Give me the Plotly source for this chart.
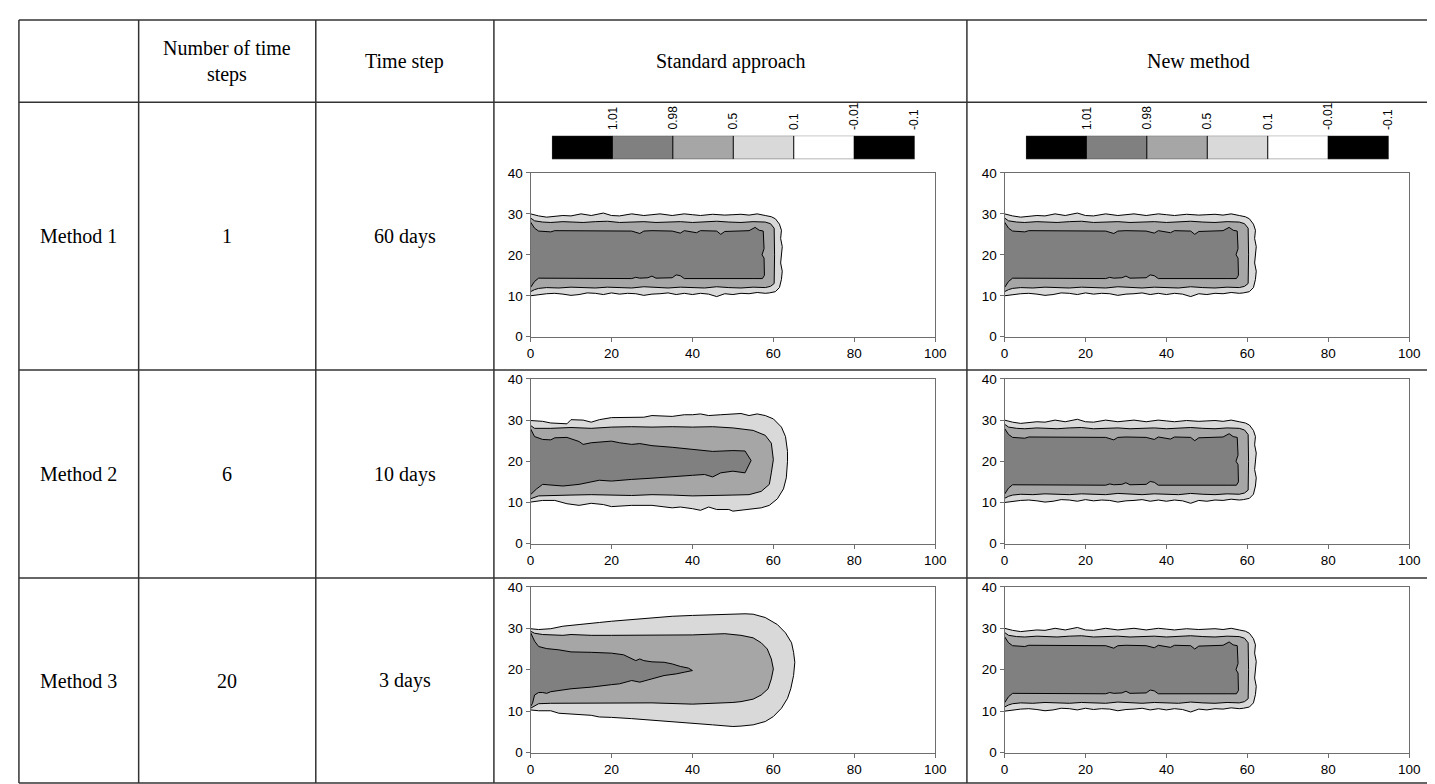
import plotly.graph_objects as go

W, H = 1435, 784

# ---------------- table text ----------------
HEADERS = ["", "Number of time<br>steps", "Time step", "Standard approach", "New method"]
ROW_LABELS = ["Method 1", "Method 2", "Method 3"]
N_STEPS = ["1", "6", "20"]
TIME_STEPS = ["60 days", "10 days", "3 days"]

# ---------------- colour legend ----------------
LEGEND_LABELS = ["1.01", "0.98", "0.5", "0.1", "-0.01", "-0.1"]
LEGEND_COLORS = ["#000000", "#808080", "#a6a6a6", "#d9d9d9", "#ffffff", "#000000"]
LEVEL_COLORS = {"outer": "#d9d9d9", "middle": "#a6a6a6", "inner": "#808080"}

# ---------------- contour boundaries ----------------
# Base plume (Method 1 standard and all "New method" panels)
BASE_OUTER_X = [0, 2, 4, 6, 8, 10, 12.5, 15, 18, 20, 22, 25, 28, 30, 32, 35, 38, 40, 42, 45, 48, 50, 52, 54, 56, 58, 59.5,
                60.5, 61.5, 62, 61.8, 62.2, 62, 61.8, 62.2, 62, 61.5, 60.5,
                59, 58, 56, 54, 52, 50, 48, 46, 44, 42, 40, 38, 36, 34, 32, 30, 28, 26, 24, 22, 20, 18, 16, 14, 12, 10, 8, 6, 4, 2, 0]
BASE_OUTER_Y = [30.0, 29.5, 29.2, 29.4, 29.6, 29.5, 30.0, 29.6, 30.2, 29.6, 29.5, 30.0, 29.6, 29.8, 30.0, 29.6, 30.0, 29.8, 29.6, 29.9, 29.7, 29.8, 29.9, 29.7, 30.0, 29.6, 29.3,
                28.8, 27.5, 26, 24, 22, 20, 18, 16, 14, 12, 11,
                10.7, 10.6, 10.8, 10.5, 10.6, 10.3, 10.5, 9.8, 10.4, 10.6, 10.3, 10.6, 10.3, 10.7, 10.5, 10.4, 10.1, 10.5, 10.6, 10.4, 10.7, 10.3, 10.6, 10.7, 10.3, 10.1, 10.4, 10.6, 10.5, 10.2, 10.0]
BASE_MID_X = [0, 1, 3, 5, 8, 10, 13, 16, 19, 22, 25, 28, 31, 34, 37, 40, 43, 46, 49, 52, 55, 58, 59.3, 60.2, 60.3, 60.3, 60.2, 59.3,
              58, 55, 52, 49, 46, 43, 40, 37, 34, 31, 28, 25, 22, 19, 16, 13, 10, 7, 4, 2, 1, 0]
BASE_MID_Y = [29.0, 28.3, 28.0, 27.9, 28.1, 28.0, 27.9, 28.1, 28.2, 27.9, 28.0, 28.1, 27.9, 28.0, 28.1, 27.9, 28.0, 28.2, 28.0, 27.9, 28.1, 28.0, 27.6, 26.5, 20, 14, 13, 12.3,
              12.0, 12.1, 11.9, 12.0, 12.2, 11.9, 12.0, 12.1, 11.9, 12.0, 12.2, 11.9, 12.0, 12.1, 11.9, 12.0, 12.1, 11.9, 12.0, 11.8, 11.5, 11.0]
BASE_IN_X = [0, 1, 2, 5, 6, 10, 15, 20, 25, 27, 28, 30, 35, 37, 38, 41, 42, 46, 47, 48, 50, 54, 55.5, 56.5, 57.5, 57.7, 57.2, 57.7, 57.8, 57.5,
             57.3, 55, 50, 45, 40, 38, 37, 36, 35, 31, 30, 29, 27, 26, 25, 20, 15, 10, 5, 2, 1, 0]
BASE_IN_Y = [28.0, 26.5, 25.8, 25.6, 25.9, 25.9, 25.9, 25.9, 25.8, 25.2, 25.8, 25.9, 25.8, 25.3, 25.9, 25.4, 25.9, 25.8, 25.0, 25.7, 25.8, 25.9, 26.7, 26.0, 25.8, 21.5, 20.0, 19.2, 15.0, 14.4,
             14.2, 14.2, 14.2, 14.2, 14.3, 14.2, 14.9, 15.1, 14.4, 14.3, 14.8, 14.4, 14.3, 14.5, 14.2, 14.2, 14.3, 14.2, 14.3, 14.3, 13.5, 12.0]

# Method 2, standard approach
M2_OUTER_X = [0, 3, 5, 9, 10, 13, 15, 17, 20, 25, 28, 30, 35, 38, 40, 42, 44, 47, 52, 54, 56, 58, 60, 62, 63, 63.5, 63.5, 63.2, 62.5, 61,
              59, 57, 55, 52, 50, 49, 46, 44, 42, 40, 37, 35, 32, 30, 25, 20, 18, 15, 12, 9, 6, 3, 0]
M2_OUTER_Y = [29.9, 29.7, 29.3, 29.1, 30.1, 30.0, 29.5, 30.1, 30.6, 30.6, 30.7, 31.1, 30.9, 31.3, 31.3, 31.5, 31.1, 31.3, 31.6, 31.1, 31.5, 31.1, 30.3, 28.3, 26.0, 22.4, 20.0, 16.0, 13.3, 10.9,
              9.3, 8.7, 8.5, 8.1, 7.9, 8.3, 8.3, 8.9, 8.1, 8.5, 8.9, 8.7, 9.0, 9.3, 9.3, 9.0, 9.5, 9.8, 9.3, 9.7, 10.5, 10.5, 10.1]
M2_MID_X = [0, 1, 5, 10, 15, 20, 25, 30, 35, 40, 45, 50, 55, 58, 59.5, 60, 59.5, 59, 57, 54, 50, 45, 40, 35, 30, 25, 20, 15, 10, 5, 2, 0]
M2_MID_Y = [28.7, 28.0, 28.0, 28.2, 28.0, 28.3, 28.4, 28.3, 28.4, 28.3, 28.4, 28.1, 27.5, 26.3, 24.4, 20.4, 17.2, 14.4, 12.7, 11.9, 11.8, 11.7, 11.6, 11.8, 11.9, 11.7, 11.8, 11.9, 11.8, 11.7, 11.6, 10.9]
M2_IN_X = [0, 1, 3, 5, 6, 9, 12, 13, 15, 18, 20, 22, 25, 27, 30, 35, 40, 45, 50, 53, 54.5, 53, 50, 47, 45, 43, 40, 35, 30, 25, 20, 17, 15, 12, 8, 5, 3, 1.5, 0]
M2_IN_Y = [27.9, 26.0, 25.3, 25.2, 25.7, 25.8, 24.8, 24.1, 24.5, 24.8, 24.9, 24.5, 24.1, 24.3, 23.8, 23.4, 22.9, 22.4, 22.6, 22.5, 20.2, 17.2, 17.6, 17.2, 16.2, 16.8, 16.6, 16.2, 15.9, 15.6, 15.2, 15.4, 15.0, 14.4, 14.0, 14.2, 14.4, 13.3, 11.9]

# Method 3, standard approach
M3_OUTER_X = [0, 2, 5, 8, 12, 15, 17, 20, 25, 30, 35, 40, 45, 50, 53, 55, 58, 61, 63, 64.5, 65, 65.3, 65, 64.3, 63.5, 62, 60, 58, 55, 52,
              50, 45, 40, 35, 30, 25, 20, 17, 15, 10, 7, 5, 2, 0]
M3_OUTER_Y = [29.9, 29.7, 29.9, 30.5, 30.9, 31.1, 31.4, 31.7, 32.1, 32.5, 32.9, 33.1, 33.3, 33.4, 33.5, 33.4, 32.6, 30.9, 28.9, 26.5, 24.2, 21.8, 18.6, 15.4, 13.1, 10.7, 8.7, 7.5, 6.7, 6.4,
              6.3, 6.7, 7.1, 7.5, 7.8, 8.2, 8.5, 8.6, 9.0, 9.3, 9.5, 10.1, 10.1, 10.3]
M3_MID_X = [0, 1, 3, 8, 10, 15, 20, 30, 40, 48, 52, 55, 57, 58.5, 59.5, 60, 59.5, 58.7, 57, 55, 52, 50, 45, 40, 30, 20, 10, 5, 2, 1, 0]
M3_MID_Y = [29.3, 28.8, 28.5, 28.3, 28.5, 28.3, 28.3, 28.3, 28.4, 28.7, 28.3, 27.7, 26.5, 25.0, 22.6, 20.2, 17.8, 15.4, 13.9, 12.9, 12.3, 12.1, 11.9, 11.7, 12.0, 12.0, 11.9, 11.9, 11.8, 11.3, 10.7]
M3_IN_X = [0, 1, 2, 4, 7, 10, 15, 18, 20, 23, 25, 26, 27, 28, 30, 33, 35, 37, 39, 40, 38, 36, 33, 30, 27, 25, 22, 20, 15, 10, 7, 5, 4, 3, 2, 1, 0.5, 0]
M3_IN_Y = [29.0, 26.9, 25.6, 25.1, 24.8, 24.3, 24.2, 24.0, 24.0, 23.6, 22.6, 22.2, 22.6, 22.2, 21.9, 21.8, 21.4, 20.8, 20.4, 19.8, 19.4, 19.0, 18.6, 17.8, 17.0, 17.4, 16.6, 16.4, 15.8, 15.4, 15.0, 14.7, 14.3, 14.5, 14.5, 13.9, 11.9, 11.1]

BASE = [("outer", BASE_OUTER_X, BASE_OUTER_Y), ("middle", BASE_MID_X, BASE_MID_Y), ("inner", BASE_IN_X, BASE_IN_Y)]
M2 = [("outer", M2_OUTER_X, M2_OUTER_Y), ("middle", M2_MID_X, M2_MID_Y), ("inner", M2_IN_X, M2_IN_Y)]
M3 = [("outer", M3_OUTER_X, M3_OUTER_Y), ("middle", M3_MID_X, M3_MID_Y), ("inner", M3_IN_X, M3_IN_Y)]
PANELS = [BASE, BASE, M2, BASE, M3, BASE]   # row-major: (std, new) per row

# ---------------- layout geometry (pixels) ----------------
COL_X = [7, 128, 307, 487, 965, 1433]
ROW_Y = [5, 89, 362, 574, 783]
PLOT_X = [(524, 933), (1003, 1412)]
PLOT_Y = [(161, 328), (371, 539), (583, 752)]
LEG_Y = (123, 147)
LEG_DX = (21.6, 388.2)

def px(x):
    return x / W

def py(y):
    return 1 - y / H

fig = go.Figure()
layout = dict(width=W, height=H, margin=dict(l=0, r=0, t=0, b=0),
              paper_bgcolor="white", plot_bgcolor="white", showlegend=False)

AX_COL = "#6e6e6e"
tick_font = dict(family="Liberation Sans, Arial", size=13.5, color="black")

idx = 0
for r in range(3):
    for c in range(2):
        idx += 1
        xa = "xaxis" if idx == 1 else f"xaxis{idx}"
        ya = "yaxis" if idx == 1 else f"yaxis{idx}"
        xr = "x" if idx == 1 else f"x{idx}"
        yr = "y" if idx == 1 else f"y{idx}"
        layout[xa] = dict(domain=[px(PLOT_X[c][0]), px(PLOT_X[c][1])], range=[0, 100], anchor=yr,
                          showline=True, linecolor=AX_COL, linewidth=1, mirror=True, ticks="outside",
                          ticklen=4, tickcolor=AX_COL, tickvals=[0, 20, 40, 60, 80, 100], showgrid=False,
                          zeroline=False, tickfont=tick_font, fixedrange=True)
        layout[ya] = dict(domain=[py(PLOT_Y[r][1]), py(PLOT_Y[r][0])], range=[0, 40], anchor=xr,
                          showline=True, linecolor=AX_COL, linewidth=1, mirror=True, ticks="outside",
                          ticklen=4, tickcolor=AX_COL, tickvals=[0, 10, 20, 30, 40], showgrid=False,
                          zeroline=False, tickfont=tick_font, fixedrange=True)
        panel = PANELS[r * 2 + c]
        for lvl, xs, ys in panel:
            fig.add_trace(go.Scatter(x=xs, y=ys, mode="lines", fill="toself",
                                     fillcolor=LEVEL_COLORS[lvl], line=dict(width=0),
                                     hoverinfo="skip", xaxis=xr, yaxis=yr))
        for lvl, xs, ys in panel:
            fig.add_trace(go.Scatter(x=xs, y=ys, mode="lines", line=dict(color="black", width=1),
                                     hoverinfo="skip", xaxis=xr, yaxis=yr))

# ---------------- colour legends (row 1 only) ----------------
annotations = []
shapes = []
n = len(LEGEND_COLORS)
cs = []
for i, col in enumerate(LEGEND_COLORS):
    cs.append([i / n, col])
    cs.append([(i + 1) / n, col])
for c in range(2):
    idx += 1
    xa, ya, xr, yr = f"xaxis{idx}", f"yaxis{idx}", f"x{idx}", f"y{idx}"
    x0 = PLOT_X[c][0] + LEG_DX[0]
    x1 = PLOT_X[c][0] + LEG_DX[1]
    layout[xa] = dict(domain=[px(x0), px(x1)], range=[0, n], anchor=yr, visible=False, fixedrange=True)
    layout[ya] = dict(domain=[py(LEG_Y[1]), py(LEG_Y[0])], range=[0, 1], anchor=xr, visible=False, fixedrange=True)
    fig.add_trace(go.Heatmap(z=[list(range(n))], x=[i + 0.5 for i in range(n)], y=[0.5],
                             colorscale=cs, zmin=-0.5, zmax=n - 0.5, showscale=False,
                             hoverinfo="skip", xaxis=xr, yaxis=yr))
    for i in range(1, n):
        shapes.append(dict(type="line", xref=xr, yref=yr, x0=i, x1=i, y0=0, y1=1,
                           line=dict(color="black", width=1)))
    shapes.append(dict(type="rect", xref=xr, yref=yr, x0=0, x1=n, y0=0, y1=1,
                       line=dict(color="#444444", width=0.8)))
    for i, lab in enumerate(LEGEND_LABELS):
        annotations.append(dict(x=i + 1, y=py(LEG_Y[0] - 4), xref=xr, yref="paper", text=lab,
                                textangle=-90, showarrow=False, xanchor="center", yanchor="bottom",
                                font=dict(family="Liberation Sans, Arial", size=12, color="black")))

# ---------------- table lines ----------------
LINE = dict(color="#333333", width=1.5)
for x in COL_X:
    shapes.append(dict(type="line", xref="paper", yref="paper", x0=px(x), x1=px(x),
                       y0=py(ROW_Y[0]), y1=py(ROW_Y[-1]), line=LINE))
for y in ROW_Y:
    shapes.append(dict(type="line", xref="paper", yref="paper", x0=px(COL_X[0]), x1=px(COL_X[-1]),
                       y0=py(y), y1=py(y), line=LINE))

# ---------------- table text ----------------
serif = dict(family="Liberation Serif, Times New Roman", size=20, color="black")

def cell_text(text, col, row):
    cx = (COL_X[col] + COL_X[col + 1]) / 2
    cy = (ROW_Y[row] + ROW_Y[row + 1]) / 2
    annotations.append(dict(x=px(cx), y=py(cy), xref="paper", yref="paper", text=text,
                            showarrow=False, xanchor="center", yanchor="middle", font=serif))

for i, h in enumerate(HEADERS):
    if h:
        cell_text(h, i, 0)
for r in range(3):
    cell_text(ROW_LABELS[r], 0, r + 1)
    cell_text(N_STEPS[r], 1, r + 1)
    cell_text(TIME_STEPS[r], 2, r + 1)

layout["annotations"] = annotations
layout["shapes"] = shapes
fig.update_layout(**layout)
fig.write_html("out.html")
